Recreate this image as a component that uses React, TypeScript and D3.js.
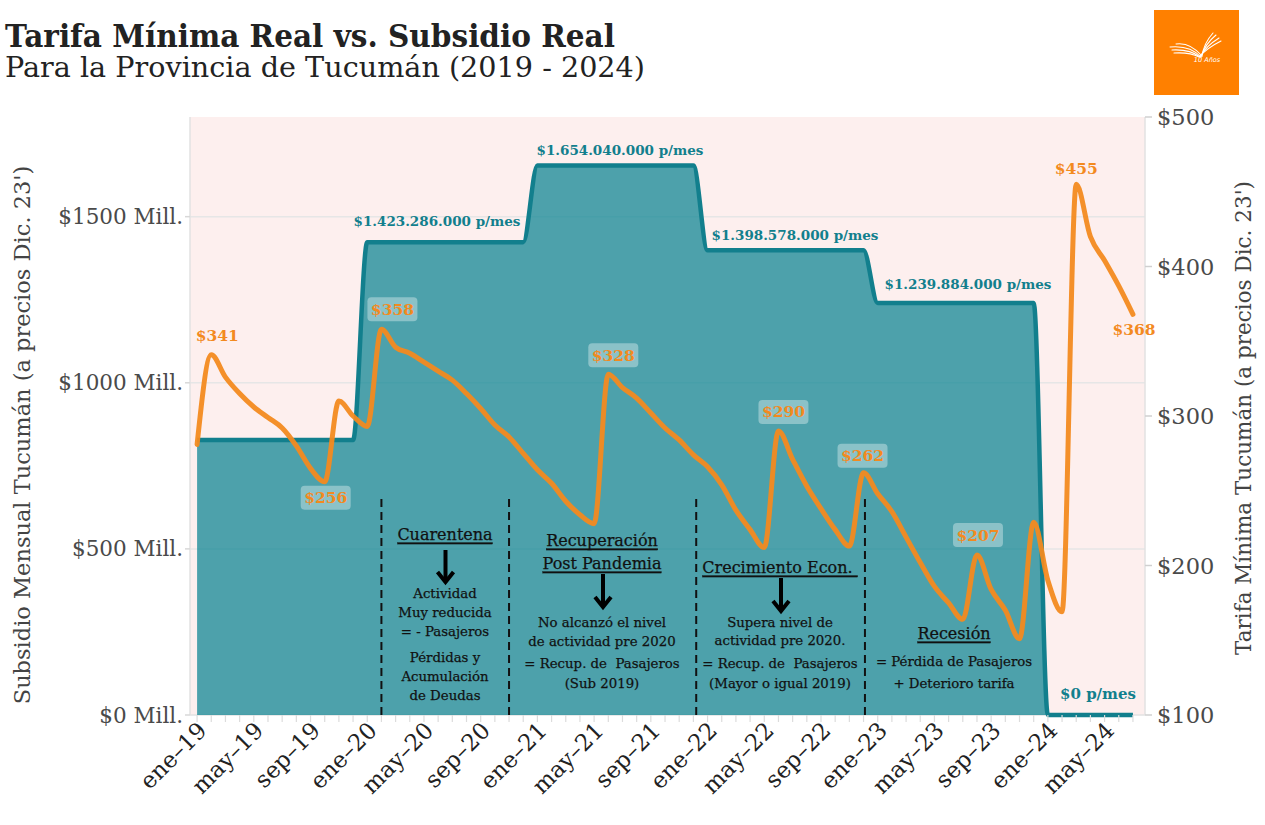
import React from 'react';
import * as d3 from 'd3';

const monthNames = ['ene', 'feb', 'mar', 'abr', 'may', 'jun', 'jul', 'ago', 'sep', 'oct', 'nov', 'dic'];
const yearCodes = ['19', '20', '21', '22', '23', '24'];
const months: string[] = [];
yearCodes.forEach((y) => monthNames.forEach((m) => months.push(`${m}–${y}`)));
months.length = 67; // ene-19 .. jul-24

// Tarifa mínima real (right axis, $ Dic. 23')
const tarifa = [
  281, 341, 326, 315, 306, 299, 292, 280, 265, 256, 310, 300,
  293, 358, 346, 342, 336, 330, 324, 315, 305, 294, 286, 275,
  264, 255, 243, 234, 228, 328, 319, 312, 302, 292, 284, 274,
  266, 254, 237, 224, 212, 290, 271, 253, 238, 224, 213, 262,
  248, 236, 219, 202, 186, 175, 164, 207, 184, 170, 151, 229,
  190, 169, 455, 420, 404, 387, 368,
];

// Subsidio mensual real (left axis, millones)
const subsidioYears = ['19', '20', '21', '22', '23', '24'];
const subsidioAnual = [828, 1423.286, 1654.04, 1398.578, 1239.884, 0];
const subsidioLabels = ['', '$1.423.286.000 p/mes', '$1.654.040.000 p/mes', '$1.398.578.000 p/mes', '$1.239.884.000 p/mes', '$0 p/mes'];
const subsidio = months.map((m) => subsidioAnual[subsidioYears.indexOf(m.slice(-2))]);

const leftTicks = [0, 500, 1000, 1500];
const leftTickLabels = ['$0 Mill.', '$500 Mill.', '$1000 Mill.', '$1500 Mill.'];
const rightTicks = [100, 200, 300, 400, 500];
const rightTickLabels = ['$100', '$200', '$300', '$400', '$500'];
const xLabelIdx = d3.range(0, 67, 4);

const phaseBreaks = [13, 22, 35.2, 47.1];

const tarifaLabelIdx = [1, 13, 9, 29, 41, 47, 55, 62, 66];
const tarifaLabelStyle = [
  { dx: 6, dy: -19, box: false },
  { dx: 11, dy: -20, box: true },
  { dx: 1, dy: 16, box: true },
  { dx: 5, dy: -19, box: true },
  { dx: 5, dy: -19, box: true },
  { dx: -1, dy: -17, box: true },
  { dx: 1, dy: -20, box: true },
  { dx: 0, dy: -16, box: false },
  { dx: 1, dy: 15, box: false },
];
const subsidioLabelPos = [null, { x: 437, y: 221, s: 13.5 }, { x: 620, y: 150, s: 13.5 }, { x: 795, y: 235, s: 13.5 }, { x: 968, y: 284, s: 13.5 }, { x: 1098, y: 694, s: 15 }];

const FONT = 'DejaVu Serif, serif';
const TEAL = '#127f8d';
const ORANGE = '#f38a1f';
const PANEL = { l: 190, r: 1145, t: 117, b: 715 };

export default function App() {
  const x = d3.scaleLinear().domain([-0.5, 66.85]).range([PANEL.l, PANEL.r]);
  const yL = d3.scaleLinear().domain([0, 1800]).range([PANEL.b, PANEL.t]);
  const yR = d3.scaleLinear().domain([100, 500]).range([PANEL.b, PANEL.t]);

  const idx = d3.range(months.length);
  const area = d3.area<number>().x((i) => x(i)).y0(yL(0)).y1((i) => yL(subsidio[i])).curve(d3.curveMonotoneX);
  const subLine = d3.line<number>().x((i) => x(i)).y((i) => yL(subsidio[i])).curve(d3.curveMonotoneX);
  const tarLine = d3.line<number>().x((i) => x(i)).y((i) => yR(tarifa[i])).curve(d3.curveMonotoneX);

  const annot = (cx: number, lines: { t: string; y: number; head?: boolean }[]) =>
    lines.map((l, k) => (
      <text key={k} x={cx} y={l.y} textAnchor="middle" dominantBaseline="central"
        fontSize={l.head ? 16 : 13.3} fill="#111" fontFamily={FONT}
        stroke="#111" strokeWidth={0.25}
        textDecoration={l.head ? 'underline' : undefined} style={{ whiteSpace: 'pre' }}>
        {l.t}
      </text>
    ));

  const arrow = (cx: number, y1: number, y2: number) => (
    <g stroke="#000" strokeWidth={4} fill="none">
      <line x1={cx} y1={y1} x2={cx} y2={y2 - 2} />
      <polyline points={`${cx - 8},${y2 - 10} ${cx},${y2} ${cx + 8},${y2 - 10}`} strokeLinejoin="miter" />
    </g>
  );

  return (
    <svg width={1265} height={825} style={{ position: 'absolute', left: 0, top: 0, background: '#fff' }} fontFamily={FONT}>
      {/* Titles */}
      <text x={5} y={47} fontSize={31} fontWeight={700} fill="#222" textLength={610} lengthAdjust="spacingAndGlyphs">
        Tarifa Mínima Real vs. Subsidio Real
      </text>
      <text x={5} y={77} fontSize={27} fill="#222" textLength={640} lengthAdjust="spacingAndGlyphs">
        Para la Provincia de Tucumán (2019 - 2024)
      </text>

      {/* Logo */}
      <rect x={1154} y={10} width={85} height={85} fill="#ff8000" />
      <g stroke="#fff" fill="none" strokeWidth={1.1} strokeLinecap="round">
        <path d="M1170,47 Q1190,45 1201,57 Q1205,44 1216,35" />
        <path d="M1172,50 Q1190,49 1200,57 Q1206,46 1219,38" />
        <path d="M1174,53 Q1190,52 1199,57 Q1207,48 1221,41" />
        <path d="M1176,44 Q1190,42 1202,56 Q1204,43 1213,33" />
      </g>
      <text x={1207} y={62} fontSize={6.5} fill="#fff" fontFamily="DejaVu Sans" fontStyle="italic" textAnchor="middle">10 Años</text>

      {/* Panel */}
      <rect x={PANEL.l} y={PANEL.t} width={PANEL.r - PANEL.l} height={PANEL.b - PANEL.t} fill="#fdefee" />
      {leftTicks.filter((t) => t > 0).map((t) => (
        <line key={t} x1={PANEL.l} x2={PANEL.r} y1={yL(t)} y2={yL(t)} stroke="#e6e6e6" strokeWidth={1.5} />
      ))}
      <line x1={PANEL.l} x2={PANEL.l} y1={PANEL.t} y2={PANEL.b} stroke="#e2e2e2" strokeWidth={1.5} />
      <line x1={PANEL.r} x2={PANEL.r} y1={PANEL.t} y2={PANEL.b} stroke="#e2e2e2" strokeWidth={1.5} />
      <line x1={PANEL.l} x2={PANEL.r} y1={PANEL.b} y2={PANEL.b} stroke="#e2e2e2" strokeWidth={1.5} />

      {/* Subsidy area */}
      <path d={area(idx) || ''} fill="#0f8593" fillOpacity={0.74} />
      <path d={subLine(idx) || ''} fill="none" stroke={TEAL} strokeWidth={4.5} />

      {/* Phase separators */}
      {phaseBreaks.map((b) => (
        <line key={b} x1={x(b)} x2={x(b)} y1={yL(650)} y2={PANEL.b} stroke="#111" strokeWidth={2} strokeDasharray="8,5" />
      ))}

      {/* Annotations */}
      {annot(445, [
        { t: 'Cuarentena', y: 534, head: true },
        { t: 'Actividad', y: 593 },
        { t: 'Muy reducida', y: 612 },
        { t: '= - Pasajeros', y: 631 },
        { t: 'Pérdidas y', y: 657 },
        { t: 'Acumulación', y: 676 },
        { t: 'de Deudas', y: 695 },
      ])}
      {arrow(445.5, 550, 582)}
      {annot(602, [
        { t: 'Recuperación', y: 540, head: true },
        { t: 'Post Pandemia', y: 563, head: true },
        { t: 'No alcanzó el nivel', y: 622 },
        { t: 'de actividad pre 2020', y: 641 },
        { t: '= Recup. de  Pasajeros', y: 663 },
        { t: '(Sub 2019)', y: 683 },
      ])}
      {arrow(603, 574, 607)}
      {annot(780, [
        { t: 'Crecimiento Econ. ', y: 567, head: true },
        { t: 'Supera nivel de', y: 622 },
        { t: 'actividad pre 2020.', y: 640 },
        { t: '= Recup. de  Pasajeros', y: 663 },
        { t: '(Mayor o igual 2019)', y: 683 },
      ])}
      {arrow(781, 578, 611)}
      {annot(954, [
        { t: 'Recesión', y: 633, head: true },
        { t: '= Pérdida de Pasajeros', y: 661 },
        { t: '+ Deterioro tarifa', y: 683 },
      ])}

      {/* Subsidy labels */}
      {subsidioLabels.map((s, k) => {
        const p = subsidioLabelPos[k];
        if (!s || !p) return null;
        return (
          <text key={k} x={p.x} y={p.y} textAnchor="middle" dominantBaseline="central" fontSize={p.s}
            fontWeight={700} fill={TEAL}>{s}</text>
        );
      })}

      {/* Tarifa line */}
      <path d={tarLine(idx) || ''} fill="none" stroke={ORANGE} strokeWidth={5} strokeOpacity={0.95} strokeLinejoin="round" strokeLinecap="round" />

      {/* Tarifa labels */}
      {tarifaLabelIdx.map((i, k) => {
        const st = tarifaLabelStyle[k];
        const cx = x(i) + st.dx;
        const cy = yR(tarifa[i]) + st.dy;
        const label = `$${tarifa[i]}`;
        return (
          <g key={k}>
            {st.box && (
              <rect x={cx - 25} y={cy - 12} width={50} height={24} rx={4} fill="#ffffff" fillOpacity={0.35} />
            )}
            <text x={cx} y={cy} textAnchor="middle" dominantBaseline="central" fontSize={15.5} fontWeight={700} fill={ORANGE}>
              {label}
            </text>
          </g>
        );
      })}

      {/* Left axis */}
      {leftTicks.map((t, k) => (
        <g key={t}>
          <line x1={PANEL.l - 5} x2={PANEL.l} y1={yL(t)} y2={yL(t)} stroke="#d8d8d8" strokeWidth={1.5} />
          <text x={183} y={yL(t)} textAnchor="end" dominantBaseline="central" fontSize={21.5} fill="#4a4a4a">
            {leftTickLabels[k]}
          </text>
        </g>
      ))}
      <text transform={`translate(22,435) rotate(-90)`} textAnchor="middle" dominantBaseline="central" fontSize={22.5} fill="#444">
        Subsidio Mensual Tucumán (a precios Dic. 23')
      </text>

      {/* Right axis */}
      {rightTicks.map((t, k) => (
        <g key={t}>
          <line x1={PANEL.r} x2={PANEL.r + 7} y1={yR(t)} y2={yR(t)} stroke="#d0d0d0" strokeWidth={1.5} />
          <text x={1157} y={yR(t)} dominantBaseline="central" fontSize={22.5} fill="#4a4a4a">
            {rightTickLabels[k]}
          </text>
        </g>
      ))}
      <text transform={`translate(1243,418) rotate(-90)`} textAnchor="middle" dominantBaseline="central" fontSize={21.5} fill="#444">
        Tarifa Mínima Tucumán (a precios Dic. 23')
      </text>

      {/* X axis */}
      {idx.map((i) => (
        <line key={i} x1={x(i)} x2={x(i)} y1={PANEL.b} y2={PANEL.b + 7} stroke="#dcdcdc" strokeWidth={1.2} />
      ))}
      {xLabelIdx.map((i) => (
        <text key={i} transform={`translate(${x(i) + 11},${PANEL.b + 17}) rotate(-45)`} textAnchor="end"
          fontSize={23} fill="#222">
          {months[i]}
        </text>
      ))}
    </svg>
  );
}
